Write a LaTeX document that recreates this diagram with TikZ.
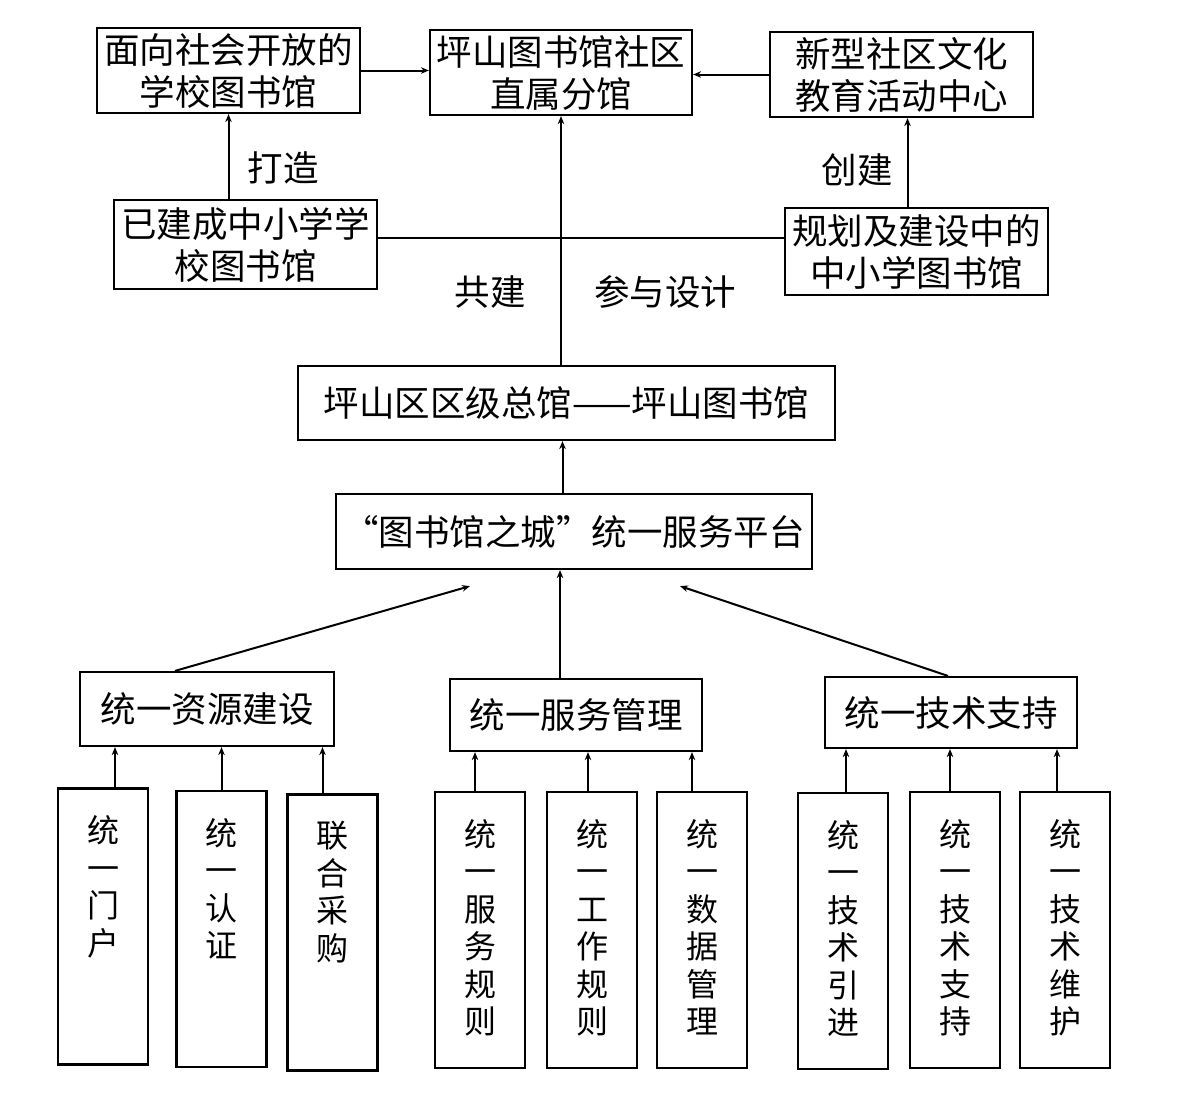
\documentclass[tikz,border=0pt]{standalone}
\usepackage{fontspec}
\setmainfont{Noto Sans CJK SC}
\usetikzlibrary{arrows.meta}

% vertical text, top aligned in a tall box
\newcommand{\vlabel}[1]{\parbox[c][262pt][t]{56pt}{\vspace*{20pt}\centering\fontsize{32}{37.5}\selectfont #1}}

\begin{document}
\begin{tikzpicture}[
  x=1pt, y=-1pt,
  font=\fontsize{35.5}{42}\selectfont,
  box/.style={draw, line width=2.2pt, inner sep=0pt, align=center},
  tallbox/.style={box, minimum width=90pt, minimum height=276pt},
  arr/.style={-{Stealth[length=8pt,width=6.5pt]}, line width=2pt},
  link/.style={line width=2pt},
  lbl/.style={inner sep=0pt}
]
  \useasboundingbox (0,0) rectangle (1181,1109);

  % top row
  \node[box, minimum width=263pt, minimum height=85pt] (open) at (228.5,70.5)
    {面向社会开放的\\学校图书馆};
  \node[box, minimum width=262pt, minimum height=85pt] (branch) at (561,72.5)
    {坪山图书馆社区\\直属分馆};
  \node[box, minimum width=263pt, minimum height=85pt] (center) at (901.5,74.5)
    {新型社区文化\\教育活动中心};

  % second row
  \node[box, minimum width=263pt, minimum height=89pt] (built) at (245.5,244.5)
    {已建成中小学学\\校图书馆};
  \node[box, minimum width=263pt, minimum height=87pt] (plan) at (916.5,251.5)
    {规划及建设中的\\中小学图书馆};

  % main library and platform
  \node[box, minimum width=537pt, minimum height=74pt] (hq) at (566.5,403)
    {坪山区区级总馆——坪山图书馆};
  \node[box, minimum width=476pt, minimum height=75pt] (plat) at (574,531.5)
    {“图书馆之城”统一服务平台};

  % three groups
  \node[box, minimum width=254pt, minimum height=74pt] (res) at (207,709) {统一资源建设};
  \node[box, minimum width=252pt, minimum height=72pt] (svc) at (576,715) {统一服务管理};
  \node[box, minimum width=252pt, minimum height=71pt] (tec) at (951,712.5) {统一技术支持};

  % bottom row
  \node[tallbox] (portal)  at (103,926.5) {\vlabel{统\\一\\门\\户}};
  \node[tallbox] (auth)    at (221.5,929) {\vlabel{统\\一\\认\\证}};
  \node[tallbox] (buy)     at (332.5,932.5) {\vlabel{联\\合\\采\\购}};
  \node[tallbox] (srule)   at (480,930) {\vlabel{统\\一\\服\\务\\规\\则}};
  \node[tallbox] (wrule)   at (592,930) {\vlabel{统\\一\\工\\作\\规\\则}};
  \node[tallbox] (data)    at (702,930) {\vlabel{统\\一\\数\\据\\管\\理}};
  \node[tallbox] (intro)   at (843,931) {\vlabel{统\\一\\技\\术\\引\\进}};
  \node[tallbox] (support) at (955,930) {\vlabel{统\\一\\技\\术\\支\\持}};
  \node[tallbox] (maint)   at (1065,930) {\vlabel{统\\一\\技\\术\\维\\护}};

  % top connectors
  \draw[arr] (open.east) -- (open.east -| branch.west);
  \draw[arr] (center.west) -- (center.west -| branch.east);
  \draw[arr] (built.north -| open.south) -- (open.south);
  \draw[arr] ([xshift=6pt]center.south |- plan.north) -- ([xshift=6pt]center.south);
  \draw[link] ([yshift=7pt]built.east) -- ([yshift=7pt]built.east -| plan.west);
  \draw[arr] (hq.north -| branch.south) -- (branch.south);
  \node[lbl] (make) at (283,168) {打造};
  \node[lbl] (found) at (857,170) {创建};
  \node[lbl] (cobuild) at (490,292) {共建};
  \node[lbl] (design) at (665,292) {参与设计};

  % platform connectors
  \draw[arr] ([xshift=-4pt]hq.south |- plat.north) -- ([xshift=-4pt]hq.south);
  \draw[arr] ([xshift=-32pt]res.north) -- ([xshift=-104pt,yshift=-16pt]plat.south);
  \draw[arr] ([xshift=-16pt]svc.north) -- ([xshift=-16pt]svc.north |- plat.south);
  \draw[arr] ([xshift=-3pt]tec.north) -- ([xshift=106pt,yshift=-16pt]plat.south);

  % items to groups
  \foreach \item/\grp/\dx in {portal/res/12, auth/res/0, buy/res/-10,
      srule/svc/-5, wrule/svc/-4, data/svc/-10,
      intro/tec/3, support/tec/-5, maint/tec/-8}
    \draw[arr] ([xshift=\dx pt]\item.north) -- ([xshift=\dx pt]\item.north |- \grp.south);
\end{tikzpicture}
\end{document}
